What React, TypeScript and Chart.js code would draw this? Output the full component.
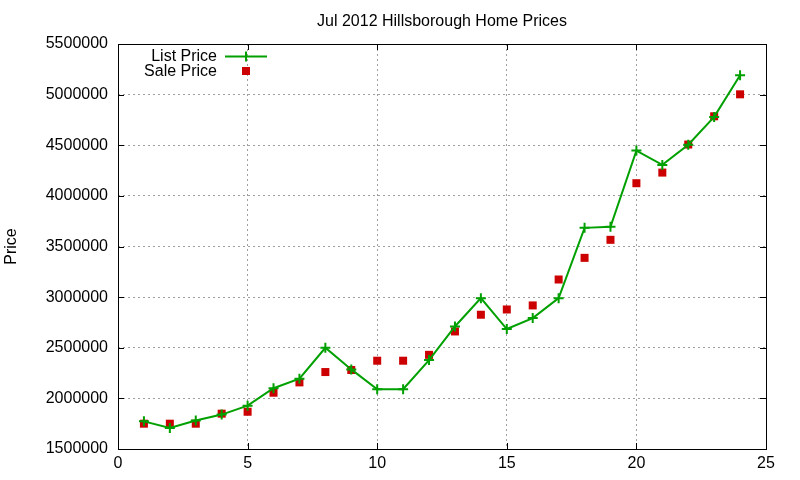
import React, { useEffect, useRef } from "react";
import { Chart, registerables } from "chart.js";

Chart.register(...registerables);

const months = [1, 2, 3, 4, 5, 6, 7, 8, 9, 10, 11, 12, 13, 14, 15, 16, 17, 18, 19, 20, 21, 22, 23, 24];
const listPrices = [
  1773000, 1707000, 1781000, 1840000, 1928000, 2100000, 2195000, 2500000, 2286000, 2090000, 2090000, 2378000,
  2710000, 2990000, 2685000, 2793000, 2990000, 3684000, 3694000, 4447000, 4306000, 4505000, 4780000, 5191000,
];
const salePrices = [
  1750000, 1750000, 1750000, 1849000, 1868000, 2056000, 2158000, 2260000, 2280000, 2372000, 2372000, 2430000,
  2661000, 2826000, 2878000, 2918000, 3174000, 3388000, 3566000, 4125000, 4230000, 4507000, 4786000, 5003000,
];
const titleText = "Jul 2012 Hillsborough Home Prices";
const yAxisLabel = "Price";
const seriesNames = ["List Price", "Sale Price"];

const GREEN = "#00a000";
const RED = "#cc0000";
const FONT = "'Liberation Sans', Arial, sans-serif";

const decorPlugin = {
  id: "gnuplotDecor",
  afterDraw(chart: any) {
    const ctx = chart.ctx as CanvasRenderingContext2D;
    const { left, right, top, bottom } = chart.chartArea;
    const xs = chart.scales.x;
    const ys = chart.scales.y;
    ctx.save();
    // border
    ctx.strokeStyle = "#000";
    ctx.lineWidth = 1;
    ctx.setLineDash([]);
    ctx.strokeRect(Math.round(left) + 0.5, Math.round(top) + 0.5, Math.round(right - left), Math.round(bottom - top));
    // inner ticks
    const tl = 6;
    ctx.beginPath();
    ys.ticks.forEach((t: any) => {
      const y = Math.round(ys.getPixelForValue(t.value)) + 0.5;
      ctx.moveTo(left, y);
      ctx.lineTo(left + tl, y);
      ctx.moveTo(right, y);
      ctx.lineTo(right - tl, y);
    });
    xs.ticks.forEach((t: any) => {
      const x = Math.round(xs.getPixelForValue(t.value)) + 0.5;
      ctx.moveTo(x, bottom);
      ctx.lineTo(x, bottom - tl);
      ctx.moveTo(x, top);
      ctx.lineTo(x, top + tl);
    });
    ctx.stroke();
    // title
    ctx.fillStyle = "#000";
    ctx.font = `16px ${FONT}`;
    ctx.textAlign = "center";
    ctx.textBaseline = "middle";
    ctx.fillText(titleText, (left + right) / 2, 22);
    // y label
    ctx.save();
    ctx.translate(12, (top + bottom) / 2);
    ctx.rotate(-Math.PI / 2);
    ctx.fillText(yAxisLabel, 0, 0);
    ctx.restore();
    // legend
    ctx.textAlign = "right";
    ctx.fillText(seriesNames[0], 217, 57);
    ctx.fillText(seriesNames[1], 217, 72);
    ctx.strokeStyle = GREEN;
    ctx.lineWidth = 2;
    ctx.beginPath();
    ctx.moveTo(225, 56.5);
    ctx.lineTo(267, 56.5);
    ctx.moveTo(246, 51.5);
    ctx.lineTo(246, 61.5);
    ctx.stroke();
    ctx.fillStyle = RED;
    ctx.fillRect(242, 67, 8, 8);
    ctx.restore();
  },
};

export default function App() {
  const ref = useRef<HTMLCanvasElement | null>(null);
  useEffect(() => {
    if (!ref.current) return;
    const chart = new Chart(ref.current, {
      type: "line",
      data: {
        datasets: [
          {
            label: seriesNames[0],
            data: months.map((m, i) => ({ x: m, y: listPrices[i] })),
            borderColor: GREEN,
            backgroundColor: GREEN,
            borderWidth: 2,
            pointStyle: "cross",
            pointRadius: 5,
            pointBorderWidth: 2,
            pointBorderColor: GREEN,
            tension: 0,
            fill: false,
          },
          {
            label: seriesNames[1],
            data: months.map((m, i) => ({ x: m, y: salePrices[i] })),
            showLine: false,
            borderColor: RED,
            backgroundColor: RED,
            pointStyle: "rect",
            pointRadius: 5.66,
            pointBorderWidth: 0,
          },
        ],
      },
      options: {
        responsive: false,
        animation: false,
        devicePixelRatio: 1,
        layout: { padding: { left: 0, right: 34, top: 44, bottom: 0 } },
        plugins: { legend: { display: false }, title: { display: false }, tooltip: { enabled: false } },
        scales: {
          x: {
            type: "linear",
            min: 0,
            max: 25,
            ticks: {
              stepSize: 5,
              color: "#000",
              font: { family: FONT, size: 16 },
              padding: 5,
              maxRotation: 0,
              callback: (v: any) => String(v),
            },
            grid: { color: "#a0a0a0", lineWidth: 1, drawTicks: false, tickLength: 0 },
            border: { display: false, dash: [2, 3] },
            afterFit: (s: any) => {
              s.height = 31;
            },
          },
          y: {
            type: "linear",
            min: 1500000,
            max: 5500000,
            ticks: {
              stepSize: 500000,
              color: "#000",
              font: { family: FONT, size: 16 },
              padding: 10,
              callback: (v: any) => String(v),
            },
            grid: { color: "#a0a0a0", lineWidth: 1, drawTicks: false, tickLength: 0 },
            border: { display: false, dash: [2, 3] },
            afterFit: (s: any) => {
              s.width = 118;
            },
          },
        },
      },
      plugins: [decorPlugin],
    });
    return () => chart.destroy();
  }, []);
  return (
    <div style={{ position: "absolute", left: 0, top: 0, width: 800, height: 480, background: "#fff" }}>
      <canvas ref={ref} width={800} height={480} />
    </div>
  );
}
